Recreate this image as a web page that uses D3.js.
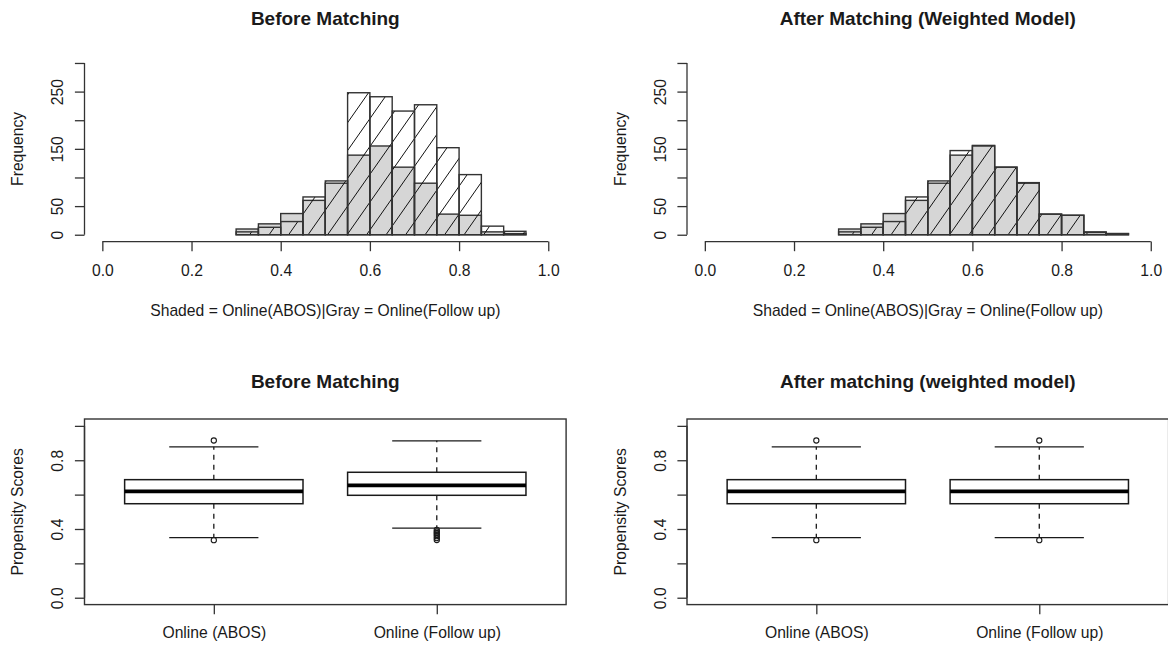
<!DOCTYPE html>
<html>
<head>
<meta charset="utf-8">
<script src="https://cdn.jsdelivr.net/npm/d3@7"></script>
<style>
	body { margin: 0; background: #fff; }
	svg { display: block; font-family: "Liberation Sans", Arial, sans-serif; }
</style>
</head>
<body>
<svg id="svg" width="1168" height="650"></svg>
<script>
// histogram bins (lower edges), width 0.05
const binStarts = [0.30, 0.35, 0.40, 0.45, 0.50, 0.55, 0.60, 0.65, 0.70, 0.75, 0.80, 0.85, 0.90]
const binWidth = 0.05
const followUpCounts = [10, 19, 37, 60, 90, 139, 155, 118, 90, 36, 34, 5, 2]
const abosBeforeCounts = [5, 13, 23, 66, 94, 248, 241, 216, 227, 152, 105, 15, 6]
const abosAfterCounts = [5, 13, 23, 66, 94, 147, 156, 118, 91, 36, 34, 4, 2]

const scoreTicks = [0, 0.2, 0.4, 0.6, 0.8, 1]
const freqTicks = [0, 50, 100, 150, 200, 250, 300]
const freqLabels = [0, 50, 150, 250]
const propTicks = [0, 0.2, 0.4, 0.6, 0.8, 1]
const propLabels = [0, 0.4, 0.8]

const groups = ['Online (ABOS)', 'Online (Follow up)']
// lower whisker, Q1, median, Q3, upper whisker
const abosBeforeBox = [0.350, 0.547, 0.619, 0.687, 0.878]
const followBeforeBox = [0.405, 0.596, 0.654, 0.730, 0.913]
const abosAfterBox = [0.350, 0.547, 0.619, 0.687, 0.878]
const followAfterBox = [0.350, 0.547, 0.619, 0.687, 0.878]
const abosBeforeOut = [0.335, 0.915]
const followBeforeOut = [0.395, 0.385, 0.377, 0.368, 0.358, 0.347, 0.336]
const abosAfterOut = [0.335, 0.915]
const followAfterOut = [0.335, 0.915]

const $svg = d3.select('#svg')
const $defs = $svg.append('defs')

const plotLeft = 84.5
const plotRight = 566.1
const ink = '#1a1a1a'
const fontSize = 15.7

// shading lines, like R's density/angle
const hatchAngle = 55
const hatchStep = 19.5

const text = ($g, str, x, y, { size = fontSize, weight = 'normal', rotate = false } = {}) => {
	return $g.append('text')
		.attr('transform', rotate ? `translate(${x},${y}) rotate(-90)` : `translate(${x},${y})`)
		.attr('text-anchor', 'middle')
		.attr('font-size', size)
		.attr('font-weight', weight)
		.attr('fill', ink)
		.text(str)
}

// R style axis: line only from first to last tick
const styleAxis = ($axis, scale, ticks, vertical) => {
	$axis.select('.domain').remove()
	$axis.selectAll('line').attr('stroke', '#333').attr('stroke-width', 1.3)
	$axis.selectAll('text').attr('fill', ink).attr('font-size', fontSize)
		.attr('font-family', null)
	const a = scale(ticks[0])
	const b = scale(ticks[ticks.length - 1])
	$axis.append('line')
		.attr(vertical ? 'y1' : 'x1', a)
		.attr(vertical ? 'y2' : 'x2', b)
		.attr('stroke', '#333')
		.attr('stroke-width', 1.3)
}

const drawHist = ({ dx, title, hatched, id }) => {
	const $g = $svg.append('g').attr('transform', `translate(${dx},0)`)

	const x = d3.scaleLinear().domain([-0.04, 1.04]).range([plotLeft, plotRight])
	const y = d3.scaleLinear().domain([-12, 312]).range([241.6, 56.1])

	const barX = d => x(d)
	const barW = d => x(d + binWidth) - x(d)

	// gray: follow up
	$g.append('g').selectAll('rect')
		.data(binStarts)
		.join('rect')
		.attr('x', barX)
		.attr('width', barW)
		.attr('y', (d, i) => y(followUpCounts[i]))
		.attr('height', (d, i) => y(0) - y(followUpCounts[i]))
		.attr('fill', '#d6d6d6')
		.attr('stroke', '#333')
		.attr('stroke-width', 1.4)

	// shading lines clipped to the ABOS bars
	$defs.append('clipPath').attr('id', id)
		.selectAll('rect')
		.data(binStarts)
		.join('rect')
		.attr('x', barX)
		.attr('width', barW)
		.attr('y', (d, i) => y(hatched[i]))
		.attr('height', (d, i) => y(0) - y(hatched[i]))

	const rise = 320
	const run = rise / Math.tan(hatchAngle * Math.PI / 180)
	const starts = d3.range(x(0.374) - 30 * hatchStep, x(1), hatchStep)
	$g.append('g')
		.attr('clip-path', `url(#${id})`)
		.selectAll('line')
		.data(starts)
		.join('line')
		.attr('x1', d => d)
		.attr('y1', y(0))
		.attr('x2', d => d + run)
		.attr('y2', y(0) - rise)
		.attr('stroke', '#111')
		.attr('stroke-width', 1)

	// shaded: ABOS outlines
	$g.append('g').selectAll('rect')
		.data(binStarts)
		.join('rect')
		.attr('x', barX)
		.attr('width', barW)
		.attr('y', (d, i) => y(hatched[i]))
		.attr('height', (d, i) => y(0) - y(hatched[i]))
		.attr('fill', 'none')
		.attr('stroke', '#333')
		.attr('stroke-width', 1.4)

	const $yAxis = $g.append('g')
		.attr('transform', `translate(${plotLeft},0)`)
		.call(d3.axisLeft(y).tickValues(freqTicks).tickSize(9.6)
			.tickFormat(d => freqLabels.includes(d) ? d : ''))
	styleAxis($yAxis, y, freqTicks, true)
	$yAxis.selectAll('.tick text')
		.attr('x', null).attr('dy', null)
		.attr('text-anchor', 'middle')
		.attr('transform', 'translate(-21.2,0) rotate(-90)')

	const $xAxis = $g.append('g')
		.attr('transform', `translate(0,${y(-12)})`)
		.call(d3.axisBottom(x).tickValues(scoreTicks).tickSize(9.6).tickFormat(d3.format('.1f')))
	styleAxis($xAxis, x, scoreTicks, false)
	$xAxis.selectAll('.tick text').attr('y', 34).attr('dy', null)

	const cx = (plotLeft + plotRight) / 2
	text($g, title, cx, 25, { size: 19, weight: 'bold' })
	text($g, 'Shaded = Online(ABOS)|Gray = Online(Follow up)', cx, 315.5)
	text($g, 'Frequency', 23.3, (y(-12) + y(312)) / 2, { rotate: true })
}

const drawBox = ({ dx, title, stats, outs }) => {
	const $g = $svg.append('g').attr('transform', `translate(${dx},0)`)

	const x = d3.scaleLinear().domain([0.42, 2.58]).range([plotLeft, plotRight])
	const y = d3.scaleLinear().domain([-0.04, 1.04]).range([604.6, 419])

	groups.forEach((name, i) => {
		const s = stats[i]
		const c = x(i + 1)
		const $b = $g.append('g')

		const whisker = (v0, v1) => $b.append('line')
			.attr('x1', c).attr('x2', c)
			.attr('y1', y(v0)).attr('y2', y(v1))
			.attr('stroke', ink).attr('stroke-width', 1.3)
			.attr('stroke-dasharray', '5,5')
		whisker(s[3], s[4])
		whisker(s[1], s[0])

		const staple = v => $b.append('line')
			.attr('x1', x(i + 0.8)).attr('x2', x(i + 1.2))
			.attr('y1', y(v)).attr('y2', y(v))
			.attr('stroke', ink).attr('stroke-width', 1.3)
		staple(s[0])
		staple(s[4])

		$b.append('rect')
			.attr('x', x(i + 0.6))
			.attr('width', x(i + 1.4) - x(i + 0.6))
			.attr('y', y(s[3]))
			.attr('height', y(s[1]) - y(s[3]))
			.attr('fill', 'none')
			.attr('stroke', ink).attr('stroke-width', 1.5)

		$b.append('line')
			.attr('x1', x(i + 0.6)).attr('x2', x(i + 1.4))
			.attr('y1', y(s[2])).attr('y2', y(s[2]))
			.attr('stroke', '#000').attr('stroke-width', 3.8)

		$b.selectAll('circle')
			.data(outs[i])
			.join('circle')
			.attr('cx', c)
			.attr('cy', d => y(d))
			.attr('r', 2.6)
			.attr('fill', 'none')
			.attr('stroke', ink).attr('stroke-width', 1.1)
	})

	$g.append('rect')
		.attr('x', plotLeft).attr('y', y(1.04))
		.attr('width', plotRight - plotLeft)
		.attr('height', y(-0.04) - y(1.04))
		.attr('fill', 'none')
		.attr('stroke', '#333').attr('stroke-width', 1.4)

	const $yAxis = $g.append('g')
		.attr('transform', `translate(${plotLeft},0)`)
		.call(d3.axisLeft(y).tickValues(propTicks).tickSize(9.6)
			.tickFormat(d => propLabels.includes(d) ? d3.format('.1f')(d) : ''))
	styleAxis($yAxis, y, propTicks, true)
	$yAxis.selectAll('.tick text')
		.attr('x', null).attr('dy', null)
		.attr('text-anchor', 'middle')
		.attr('transform', 'translate(-21.2,0) rotate(-90)')

	const $xAxis = $g.append('g')
		.attr('transform', `translate(0,${y(-0.04)})`)
		.call(d3.axisBottom(x).tickValues([1, 2]).tickSize(9.6).tickFormat(d => groups[d - 1]))
	$xAxis.select('.domain').remove()
	$xAxis.selectAll('line').attr('stroke', '#333').attr('stroke-width', 1.3)
	$xAxis.selectAll('.tick text')
		.attr('y', 33).attr('dy', null)
		.attr('fill', ink).attr('font-size', fontSize)

	const cx = (plotLeft + plotRight) / 2
	text($g, title, cx, 388, { size: 19, weight: 'bold' })
	text($g, 'Propensity Scores', 23.3, (y(-0.04) + y(1.04)) / 2, { rotate: true })
}

drawHist({ dx: 0, title: 'Before Matching', hatched: abosBeforeCounts, id: 'hatch-before' })
drawHist({ dx: 602.5, title: 'After Matching (Weighted Model)', hatched: abosAfterCounts, id: 'hatch-after' })
drawBox({ dx: 0, title: 'Before Matching', stats: [abosBeforeBox, followBeforeBox], outs: [abosBeforeOut, followBeforeOut] })
drawBox({ dx: 602.5, title: 'After matching (weighted model)', stats: [abosAfterBox, followAfterBox], outs: [abosAfterOut, followAfterOut] })
</script>
</body>
</html>
